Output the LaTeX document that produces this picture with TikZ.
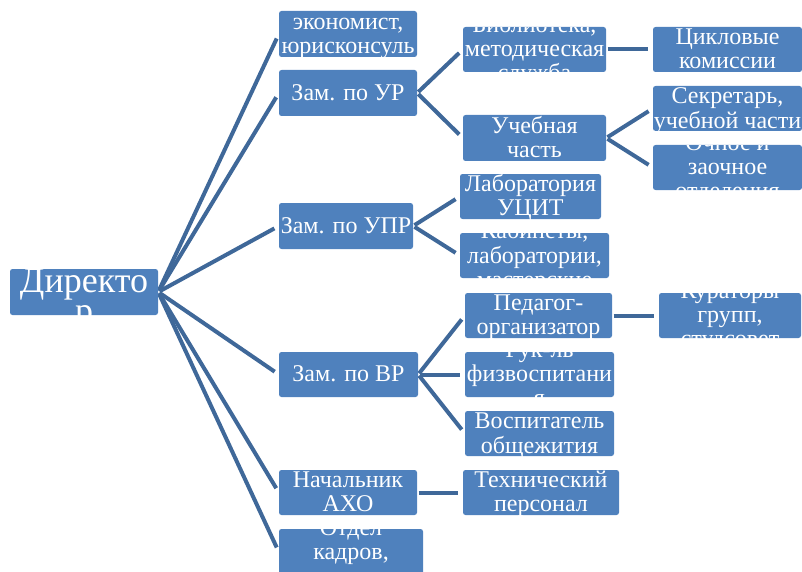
\documentclass[tikz,border=0pt]{standalone}
\usepackage{fontspec}
\setmainfont{Liberation Serif}
\usetikzlibrary{backgrounds}
\definecolor{boxblue}{HTML}{4F81BD}
\definecolor{linkblue}{HTML}{3F6899}
\begin{document}
\begin{tikzpicture}[x=1pt,y=-1pt,
  txt/.style={text=white, align=center, inner sep=0pt, font=\fontsize{24}{24}\selectfont},
  bigtxt/.style={text=white, align=center, inner sep=0pt, font=\fontsize{36}{30}\selectfont},
  box/.style={fill=boxblue, draw=none, rounded corners=2.5pt, inner sep=0pt, minimum height=45pt},
  boxtext/.style={path picture={\node[txt, yshift=-2.5pt] at (path picture bounding box.center) {\strut #1\strut};}},
  bigboxtext/.style={path picture={\node[bigtxt, yshift=-8.5pt] at (path picture bounding box.center) {\strut #1\strut};}},
  link/.style={draw=linkblue, line width=4pt, shorten <=1.5pt, shorten >=5pt}
]
\useasboundingbox (0,0) rectangle (802,572);
\clip (0,0) rectangle (802,572);

% level 1
\node[box, minimum width=148pt, minimum height=46pt, bigboxtext={Директо\\р}] (dir) at (84,292) {};

% level 2
\node[box, minimum width=138pt, minimum height=46pt, boxtext={экономист,\\юрисконсуль}] (eco) at (348,34) {};
\node[box, minimum width=138pt, minimum height=46pt, boxtext={Зам. по УР}] (zur) at (348,93) {};
\node[box, minimum width=134pt, minimum height=46pt, boxtext={Зам. по УПР}] (zupr) at (346,226) {};
\node[box, minimum width=139pt, boxtext={Зам. по ВР}] (zvr) at (348.5,374.5) {};
\node[box, minimum width=138pt, boxtext={Начальник\\АХО}] (aho) at (348,492.5) {};
\node[box, minimum width=144pt, minimum height=46pt, boxtext={Отдел\\кадров,\\ }] (kadr) at (351,552) {};

% level 3
\node[box, minimum width=143pt, boxtext={Библиотека,\\методическая\\служба}] (bib) at (534.5,49.5) {};
\node[box, minimum width=143pt, minimum height=46pt, boxtext={Учебная\\часть}] (ucheb) at (534.5,138) {};
\node[box, minimum width=141pt, boxtext={Лаборатория\\УЦИТ}] (lab) at (530.5,196.5) {};
\node[box, minimum width=149pt, boxtext={Кабинеты,\\лаборатории,\\мастерские}] (kab) at (534.5,255.5) {};
\node[box, minimum width=147pt, boxtext={Педагог-\\организатор}] (ped) at (538.5,315.5) {};
\node[box, minimum width=149pt, boxtext={Рук-ль\\физвоспитани\\я}] (fiz) at (539.5,374.5) {};
\node[box, minimum width=149pt, boxtext={Воспитатель\\общежития}] (vosp) at (539.5,433.5) {};
\node[box, minimum width=156pt, boxtext={Технический\\персонал}] (tech) at (541,492.5) {};

% level 4
\node[box, minimum width=149pt, boxtext={Цикловые\\комиссии}] (cikl) at (727.5,49.5) {};
\node[box, minimum width=149pt, boxtext={Секретарь,\\учебной части}] (sekr) at (727.5,108.5) {};
\node[box, minimum width=149pt, boxtext={Очное и\\заочное\\отделения}] (ochn) at (727.5,167.5) {};
\node[box, minimum width=142pt, boxtext={Кураторы\\групп,\\студсовет}] (kur) at (730,315.5) {};

\begin{scope}[on background layer]
  \foreach \c in {eco,zur,zupr,zvr,aho,kadr}
    \draw[link] (dir.east) -- (\c.west);
  \draw[link] (zur.east) -- (bib.west);
  \draw[link] (zur.east) -- (ucheb.west);
  \draw[link] (bib.east) -- (cikl.west);
  \draw[link] (ucheb.east) -- (sekr.west);
  \draw[link] (ucheb.east) -- (ochn.west);
  \draw[link] (zupr.east) -- (lab.west);
  \draw[link] (zupr.east) -- (kab.west);
  \draw[link] (zvr.east) -- (ped.west);
  \draw[link] (zvr.east) -- (fiz.west);
  \draw[link] (zvr.east) -- (vosp.west);
  \draw[link] (ped.east) -- (kur.west);
  \draw[link] (aho.east) -- (tech.west);
\end{scope}
\end{tikzpicture}
\end{document}
